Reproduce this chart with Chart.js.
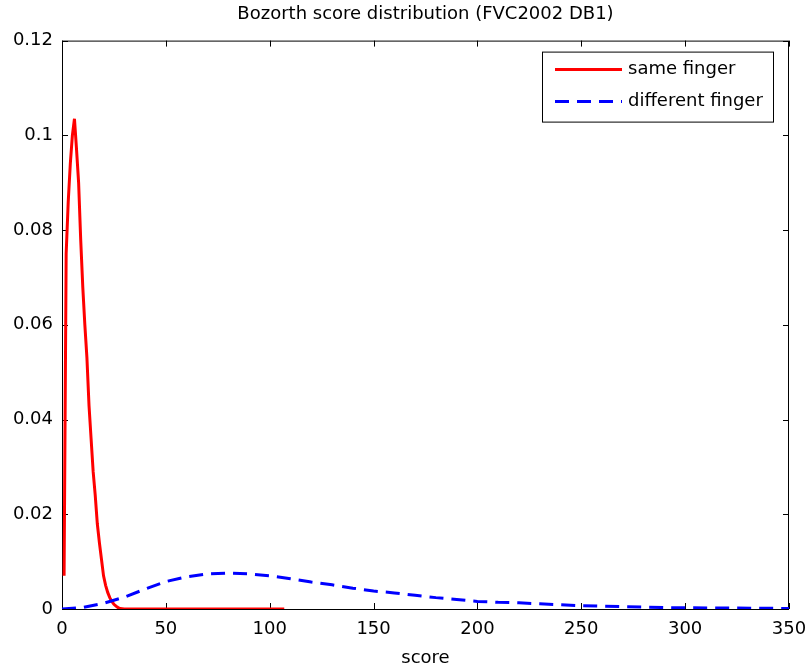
<!DOCTYPE html>
<html>
<head>
<meta charset="utf-8">
<script src="https://cdn.jsdelivr.net/npm/chart.js@4.4.1/dist/chart.umd.min.js"></script>
<style>
  html, body { margin: 0; padding: 0; background: #fff; }
  #wrap { width: 806px; height: 669px; }
</style>
</head>
<body>
<div id="wrap"><canvas id="myChart" width="806" height="669"></canvas></div>
<script>
    // same finger (genuine) score distribution
    var sameScore  = [1, 2, 3, 4, 5, 6, 7, 8, 9, 10, 11, 12, 13, 14, 15, 16, 17, 18, 19, 20,
                      21, 22, 23, 24, 25, 26, 27, 28, 30, 40, 60, 80, 107];
    var sameValues = [0.007, 0.075, 0.086, 0.094, 0.1, 0.1035, 0.097, 0.09, 0.078, 0.068,
                      0.06, 0.053, 0.043, 0.036, 0.029, 0.024, 0.018, 0.014, 0.0105, 0.007,
                      0.005, 0.0035, 0.0024, 0.0016, 0.001, 0.0006, 0.0003, 0.0001, 0, 0, 0, 0, 0];

    // different finger (impostor) score distribution
    var diffScore  = [0, 10, 20, 30, 40, 50, 60, 70, 80, 90, 100, 110, 120, 130, 140, 150,
                      160, 170, 180, 190, 200, 210, 220, 230, 240, 250, 260, 270, 280, 290,
                      300, 320, 340, 350];
    var diffValues = [0, 0.0003, 0.0012, 0.0025, 0.0042, 0.0058, 0.0068, 0.0074, 0.0076, 0.0074,
                      0.007, 0.0064, 0.0057, 0.0051, 0.0044, 0.0038, 0.0034, 0.0029, 0.0024, 0.002,
                      0.0016, 0.0014, 0.0013, 0.0011, 0.0009, 0.0007, 0.0006, 0.0005, 0.0004, 0.0003,
                      0.00025, 0.0002, 0.00015, 0.0001];

    var seriesLabels = ['same finger', 'different finger'];
    var titleText = 'Bozorth score distribution (FVC2002 DB1)';
    var xTitle = 'score';

    function toPoints(xs, ys) {
        return xs.map(function (x, i) { return { x: x, y: ys[i] }; });
    }

    var FONT = '"DejaVu Sans", sans-serif';

    // box, inward ticks and legend like the matlab figure
    var matlabAxes = {
        id: 'matlabAxes',
        beforeDatasetsDraw: function (chart) {
            var ctx = chart.ctx, a = chart.chartArea;
            var xs = chart.scales.x, ys = chart.scales.y;
            ctx.save();
            ctx.strokeStyle = '#000';
            ctx.lineWidth = 1;
            ctx.strokeRect(a.left + 0.5, a.top + 0.5, a.right - a.left - 1, a.bottom - a.top);
            ctx.beginPath();
            xs.ticks.forEach(function (t) {
                var px = Math.round(xs.getPixelForValue(t.value)) + 0.5;
                ctx.moveTo(px, a.bottom); ctx.lineTo(px, a.bottom - 6);
                ctx.moveTo(px, a.top); ctx.lineTo(px, a.top + 6);
            });
            ys.ticks.forEach(function (t) {
                var py = Math.round(ys.getPixelForValue(t.value)) + 0.5;
                ctx.moveTo(a.left, py); ctx.lineTo(a.left + 6, py);
                ctx.moveTo(a.right, py); ctx.lineTo(a.right - 6, py);
            });
            ctx.stroke();
            ctx.restore();
        },
        afterDraw: function (chart) {
            var ctx = chart.ctx, a = chart.chartArea;
            var bx = a.right - 247, by = a.top + 11, bw = 231, bh = 70;
            ctx.save();
            ctx.fillStyle = '#fff';
            ctx.fillRect(bx, by, bw, bh);
            ctx.strokeStyle = '#000';
            ctx.lineWidth = 1;
            ctx.strokeRect(bx + 0.5, by + 0.5, bw, bh);
            ctx.font = '18px ' + FONT;
            ctx.textBaseline = 'middle';
            chart.data.datasets.forEach(function (ds, i) {
                var ly = by + 18 + i * 32;
                ctx.beginPath();
                ctx.strokeStyle = ds.borderColor;
                ctx.lineWidth = 3;
                ctx.setLineDash(ds.borderDash || []);
                ctx.moveTo(bx + 13, ly);
                ctx.lineTo(bx + 80, ly);
                ctx.stroke();
                ctx.setLineDash([]);
                ctx.fillStyle = '#000';
                ctx.fillText(ds.label, bx + 86, ly);
            });
            ctx.restore();
        }
    };

    var data = {
        datasets: [{
            label: seriesLabels[0],
            data: toPoints(sameScore, sameValues),
            borderColor: '#ff0000',
            borderWidth: 3,
            pointRadius: 0,
            order: 1
        }, {
            label: seriesLabels[1],
            data: toPoints(diffScore, diffValues),
            borderColor: '#0000ff',
            borderWidth: 3,
            borderDash: [14, 8],
            pointRadius: 0,
            order: 0
        }]
    };

    var config = {
        type: 'line',
        data: data,
        options: {
            responsive: false,
            animation: false,
            layout: { padding: { left: 0, right: 17, top: 0, bottom: 0 } },
            plugins: {
                legend: { display: false },
                tooltip: { enabled: false },
                title: {
                    display: true,
                    fullSize: false,
                    text: titleText,
                    color: '#000',
                    font: { family: FONT, size: 18, weight: 'normal' },
                    padding: { top: 4, bottom: 15 }
                }
            },
            scales: {
                x: {
                    type: 'linear',
                    min: 0,
                    max: 350,
                    afterFit: function (s) {
                        s.height = 60;
                        s.paddingLeft = 0;
                        s.paddingRight = 0;
                    },
                    ticks: {
                        stepSize: 50,
                        color: '#000',
                        padding: 10,
                        maxRotation: 0,
                        font: { family: FONT, size: 18 }
                    },
                    grid: { display: false, drawTicks: false },
                    border: { display: false },
                    title: {
                        display: true,
                        text: xTitle,
                        color: '#000',
                        font: { family: FONT, size: 18 },
                        padding: { top: 0, bottom: 0 }
                    }
                },
                y: {
                    min: 0,
                    max: 0.12,
                    afterFit: function (s) { s.width = 62; },
                    ticks: {
                        stepSize: 0.02,
                        color: '#000',
                        padding: 9,
                        font: { family: FONT, size: 18 },
                        callback: function (v) { return String(+v.toFixed(2)); }
                    },
                    grid: { display: false, drawTicks: false },
                    border: { display: false }
                }
            }
        },
        plugins: [matlabAxes]
    };

    var myChart = new Chart(
        document.getElementById('myChart').getContext('2d'),
        config
    );
</script>
</body>
</html>
